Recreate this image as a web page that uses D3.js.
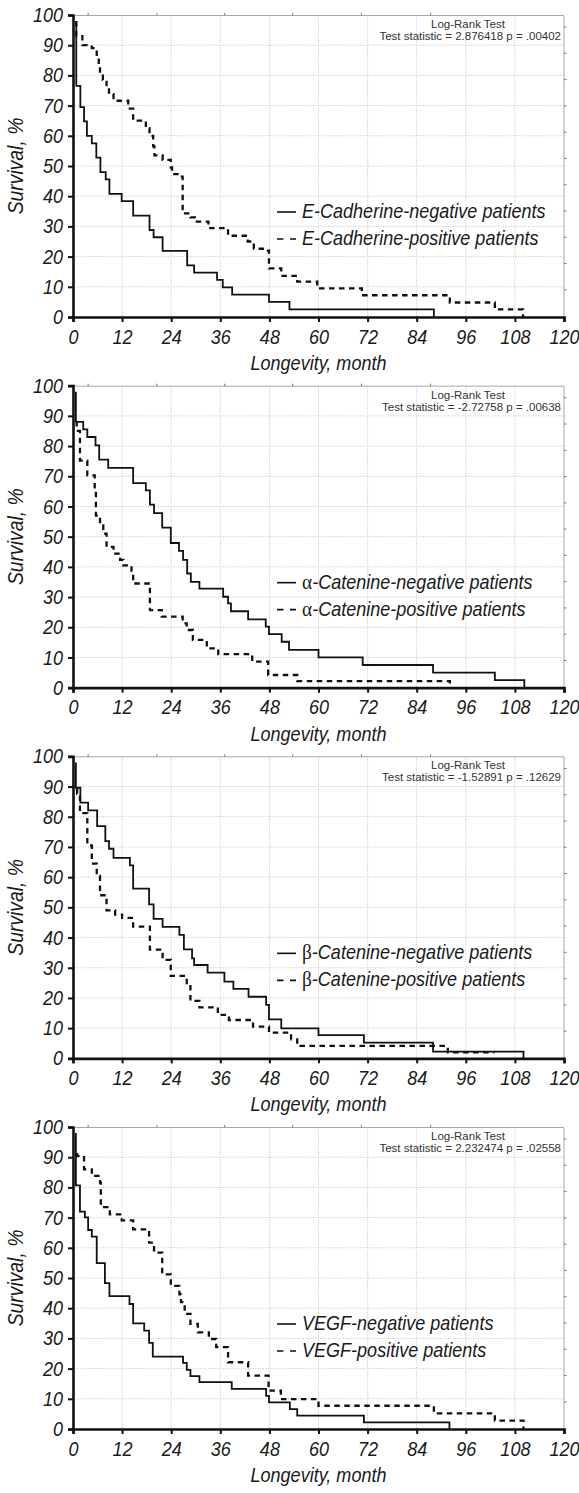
<!DOCTYPE html>
<html>
<head>
<meta charset="utf-8">
<script src="https://cdn.jsdelivr.net/npm/d3@7"></script>
<style>
  body { margin: 0; background: #fff; }
  svg text { fill: #1a1a1a; }
</style>
</head>
<body>
<div id="chart"></div>
<script>
// --- data: Kaplan-Meier steps, [month, survival %] ---
const ecadNeg = [[0.8,98],[0.8,76.5],[1.8,69.5],[2.7,64.8],[3.4,60],[4.6,57.5],[5.7,52.8],[6.7,48],[8.0,45.6],[8.9,40.8],[11.9,38.4],[14.7,33.6],[18.7,28.8],[19.7,26.4],[21.9,21.9],[27.9,17.1],[29.6,14.7],[35.2,12.3],[36.6,9.8],[38.9,7.4],[47.9,5.0],[52.9,2.5],[88.2,0]];
const ecadPos = [[0.8,98],[0.8,93],[2.3,90],[4.6,89],[5.8,86],[6.3,83],[6.6,80.5],[7.3,78.5],[8.2,76],[8.8,73.8],[9.9,71.6],[13.5,69],[14.7,65],[17.8,62.5],[18.7,60],[19.6,56.5],[19.9,53.5],[21.9,52],[23.9,49.5],[24.2,47.3],[25.9,46.5],[26.8,34.3],[28.7,33],[29.8,31.6],[33.1,29.4],[37.9,26.9],[42.7,25],[44.2,22.6],[46.7,22],[47.9,16.1],[50.9,13.6],[54.8,11.7],[59.7,9.5],[70.6,7.2],[92.1,4.8],[103.1,2.5],[110,0]];

const acatNeg = [[0.7,98],[0.7,88],[2.5,85.5],[3.5,83],[5.5,80.2],[6.4,75.5],[8.6,72.8],[14.7,67.7],[17.8,65.3],[18.8,60.6],[19.8,57.8],[21.8,53],[23.9,47.9],[25.9,45.3],[26.9,42.3],[27.9,37.8],[28.8,35],[30.9,32.8],[36.7,30.1],[37.9,27.9],[38.6,25.3],[42.8,22.6],[47.1,20.2],[47.9,17.7],[51,15.2],[52.8,12.5],[60,10],[70.8,7.5],[88,5],[103.1,2.5],[110.3,0]];
const acatPos = [[0.7,88],[0.9,85],[1.7,75.2],[3.5,70.3],[5.3,65],[5.6,57],[6.6,53.7],[7.4,51],[8.2,46.6],[9.9,44.4],[11.5,42.3],[12.3,40.5],[14.3,38.3],[14.7,34.5],[18.8,25.7],[21.7,23.5],[26.8,21.3],[27.8,19.1],[29.3,15.8],[32.7,13],[35.5,11.1],[43.8,8.6],[47.7,4.2],[54.8,2.2],[92.1,0]];

const bcatNeg = [[0.7,98],[0.7,89.6],[1.8,84.7],[3.7,82.1],[5.9,76.9],[7.9,71.9],[8.8,69.4],[9.9,66.4],[13.9,63.9],[14.7,56.2],[18.6,51],[19.7,46.2],[21.9,43.5],[26,40.9],[27.1,36.1],[29.1,33.1],[29.6,30.9],[32.9,28.4],[37,25.4],[39.2,23],[42.9,20.4],[47.2,17.7],[47.9,12.9],[50.9,9.9],[60,7.7],[71.1,5.2],[88,2.2],[110.1,0]];
const bcatPos = [[0.7,89],[1,87.6],[1.7,81.2],[3.5,70.5],[4.6,64.5],[5.8,60.4],[6.6,54],[8.2,49],[10.3,47.6],[12,46.5],[14.7,43.6],[18.8,36],[21.9,32.6],[23.9,27.3],[27.8,24.3],[28.7,19],[30.9,16.9],[35.4,14.4],[38.1,12.7],[44,10.5],[47.9,8.5],[53.3,6.3],[54.8,4.1],[91.6,2],[103,2]];

const vegfNeg = [[0.7,98],[0.7,80.7],[1.7,72],[2.9,70.1],[3.7,65.9],[4.6,63.7],[5.8,54.9],[7.8,48.3],[8.9,44],[13.8,41.4],[14.7,35],[17.4,32.6],[18.6,28.5],[19.5,24],[26.9,21.9],[27.8,19.6],[28.7,17.5],[30.9,15.5],[38.8,13.3],[47.2,11],[47.9,8.8],[53,6.6],[54.8,4.4],[71.1,2.2],[92,0]];
const vegfPos = [[0.7,91],[1,90.4],[2.7,86],[4.6,83.8],[6.6,81.6],[6.8,73.5],[9,71.1],[11.9,69.1],[14.7,66.1],[18.6,61.7],[19.8,58.4],[21.8,51.2],[23.9,47.4],[26,44.6],[26.4,42],[27.3,38.1],[28.7,34.8],[30.5,32],[33.2,29.8],[35,27.1],[37.9,22.1],[42.8,17.7],[47.8,12.7],[50.8,9.9],[60,7.7],[88.2,5.2],[103.1,2.8],[110.1,0]];

const markers = ["E-Cadherine", "α-Catenine", "β-Catenine", "VEGF"];
const statLines = [
  "Test statistic = 2.876418 p = .00402",
  "Test statistic = -2.72758 p = .00638",
  "Test statistic = -1.52891 p = .12629",
  "Test statistic = 2.232474 p = .02558"
];
const xTicks = [0, 12, 24, 36, 48, 60, 72, 84, 96, 108, 120];
const yTicks = [0, 10, 20, 30, 40, 50, 60, 70, 80, 90, 100];
// little leftover ticks on the top / right frame of the original plots
const frameTopTicks = [3.7, 20.5, 37.1, 53.7, 70.5, 87.4];
const frameRightTicks = [96, 87.3, 78.6, 69.9, 61.2, 52.5, 43.8, 35.1, 26.4, 17.7, 9];

const series = [[ecadNeg, ecadPos], [acatNeg, acatPos], [bcatNeg, bcatPos], [vegfNeg, vegfPos]];

const width = 579, height = 1493;
const left = 73, right = 564, plotH = 302, step = 370.67, top0 = 15;
const FONT = "'Liberation Sans', Arial, sans-serif";
const FS = 20.5, SX = 0.88; // the original type is a condensed italic

// squeeze a text horizontally around its own x so it looks condensed
function condense(sel, sx) {
  sel.each(function () {
    const t = d3.select(this);
    const x0 = +t.attr("x") || 0;
    const prev = t.attr("transform") || "";
    t.attr("transform", `${prev} translate(${x0 * (1 - sx)},0) scale(${sx},1)`);
  });
}

const svg = d3.select("#chart")
  .append("svg")
  .attr("width", width)
  .attr("height", height)
  .attr("viewBox", [0, 0, width, height]);

const x = d3.scaleLinear().domain([0, 120]).range([left, right]);
const y = d3.scaleLinear().domain([0, 100]).range([plotH, 0]);

const line = d3.line()
  .x(d => x(d[0]))
  .y(d => y(d[1]))
  .curve(d3.curveStepAfter);

series.forEach((pair, i) => {
  const g = svg.append("g").attr("transform", `translate(0,${top0 + i * step})`);

  // grid (dotted, light grey)
  g.append("g")
    .selectAll("line")
    .data(xTicks.slice(1, -1))
    .join("line")
    .attr("x1", d => x(d)).attr("x2", d => x(d))
    .attr("y1", 0).attr("y2", plotH)
    .attr("stroke", "#c4c4c4").attr("stroke-dasharray", "1,1.5");
  g.append("g")
    .selectAll("line")
    .data(yTicks.slice(1, -1))
    .join("line")
    .attr("x1", left).attr("x2", right)
    .attr("y1", d => y(d)).attr("y2", d => y(d))
    .attr("stroke", "#c4c4c4").attr("stroke-dasharray", "1,1.5");

  // frame top + right
  g.append("path")
    .attr("d", `M${left},0.5H${right}V${plotH}`)
    .attr("fill", "none").attr("stroke", "#a8a8a8").attr("stroke-width", 1);
  g.append("g")
    .selectAll("line")
    .data(frameTopTicks)
    .join("line")
    .attr("x1", d => x(d)).attr("x2", d => x(d))
    .attr("y1", -2).attr("y2", 0.5)
    .attr("stroke", "#777");
  g.append("g")
    .selectAll("line")
    .data(frameRightTicks)
    .join("line")
    .attr("x1", right).attr("x2", right + 2.5)
    .attr("y1", d => y(d)).attr("y2", d => y(d))
    .attr("stroke", "#777");

  // curves
  g.append("path")
    .datum(pair[0])
    .attr("d", line)
    .attr("fill", "none").attr("stroke", "#111").attr("stroke-width", 1.8);
  g.append("path")
    .datum(pair[1])
    .attr("d", line)
    .attr("fill", "none").attr("stroke", "#111").attr("stroke-width", 2.3)
    .attr("stroke-dasharray", "5.5,4.5");

  // axes
  const yAxis = g.append("g")
    .attr("transform", `translate(${left},0)`)
    .call(d3.axisLeft(y).tickValues(yTicks).tickSize(5).tickPadding(5));
  const xAxis = g.append("g")
    .attr("transform", `translate(0,${plotH})`)
    .call(d3.axisBottom(x).tickValues(xTicks).tickSize(5).tickPadding(7));
  [yAxis, xAxis].forEach(a => {
    a.select(".domain").attr("stroke", "#111").attr("stroke-width", 2.6);
    a.selectAll(".tick line").attr("stroke", "#111").attr("stroke-width", 2);
    a.selectAll(".tick text")
      .attr("font-family", FONT).attr("font-style", "italic")
      .attr("font-size", FS).attr("fill", "#1a1a1a")
      .call(condense, SX);
  });

  // axis titles
  g.append("text")
    .attr("transform", `translate(23,${plotH / 2}) rotate(-90)`)
    .attr("text-anchor", "middle")
    .attr("font-family", FONT).attr("font-style", "italic").attr("font-size", 21.5)
    .text("Survival, %")
    .call(condense, 0.9);
  g.append("text")
    .attr("x", (left + right) / 2).attr("y", plotH + 53)
    .attr("text-anchor", "middle")
    .attr("font-family", FONT).attr("font-style", "italic").attr("font-size", FS)
    .text("Longevity, month")
    .call(condense, SX);

  // log-rank note
  g.append("text")
    .attr("x", 468).attr("y", 13)
    .attr("text-anchor", "middle")
    .attr("font-family", "'Liberation Sans', Arial, sans-serif").attr("font-size", 11.5)
    .style("fill", "#333")
    .text("Log-Rank Test");
  g.append("text")
    .attr("x", 561).attr("y", 25)
    .attr("text-anchor", "end")
    .attr("font-family", "'Liberation Sans', Arial, sans-serif").attr("font-size", 11.5)
    .style("fill", "#333")
    .text(statLines[i]);

  // legend
  const lg = g.append("g");
  ["negative", "positive"].forEach((kind, k) => {
    const by = 203 + k * 27;
    lg.append("line")
      .attr("x1", 277).attr("x2", 296)
      .attr("y1", by - 6).attr("y2", by - 6)
      .attr("stroke", "#111").attr("stroke-width", 1.6)
      .attr("stroke-dasharray", k ? "6.5,6.5" : null);
    const t = lg.append("text")
      .attr("x", 302).attr("y", by)
      .attr("font-family", FONT).attr("font-style", "italic").attr("font-size", FS);
    const name = markers[i];
    if (name[0] === "α" || name[0] === "β") {
      t.append("tspan")
        .attr("font-family", "'Liberation Serif', 'DejaVu Serif', serif")
        .attr("font-style", "normal")
        .attr("font-size", 22)
        .text(name[0]);
      t.append("tspan").text(`${name.slice(1)}-${kind} patients`);
    } else {
      t.append("tspan").text(`${name}-${kind} patients`);
    }
    t.call(condense, SX);
  });
});
</script>
</body>
</html>
